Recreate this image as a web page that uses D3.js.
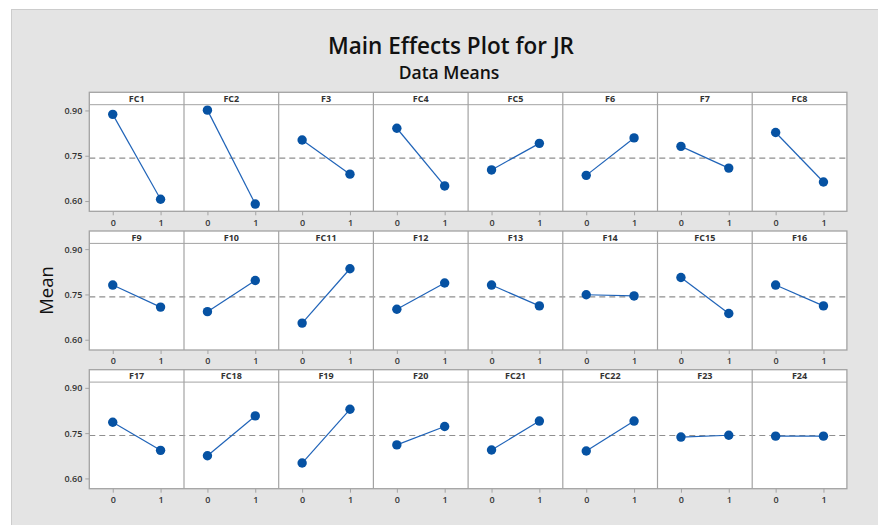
<!DOCTYPE html>
<html>
<head>
<meta charset="utf-8">
<script src="https://cdn.jsdelivr.net/npm/d3@7"></script>
<style>
  html, body { margin: 0; padding: 0; background: #ffffff; }
  svg { display: block; }
  text { font-family: "Open Sans", "DejaVu Sans", sans-serif; }
</style>
</head>
<body>
<svg id="chart" width="878" height="525"></svg>
<script>
// ---- data ----
const factors = ["FC1","FC2","F3","FC4","FC5","F6","F7","FC8",
                 "F9","F10","FC11","F12","F13","F14","FC15","F16",
                 "F17","FC18","F19","F20","FC21","FC22","F23","F24"];
const level0Means = [0.887,0.901,0.802,0.841,0.703,0.685,0.781,0.827,
                     0.781,0.693,0.655,0.701,0.781,0.749,0.806,0.781,
                     0.786,0.675,0.651,0.711,0.694,0.691,0.737,0.740];
const level1Means = [0.606,0.590,0.689,0.650,0.791,0.809,0.709,0.663,
                     0.708,0.796,0.835,0.788,0.712,0.745,0.687,0.712,
                     0.693,0.807,0.829,0.772,0.790,0.790,0.743,0.740];
const levels = [0, 1];
const levelLabels = ["0", "1"];
const yTickValues = [0.60, 0.75, 0.90];
const grandMean = 0.742;
const titleText = "Main Effects Plot for JR";
const subtitleText = "Data Means";
const yAxisLabel = "Mean";

// ---- layout ----
const svg = d3.select("#chart");
const W = 878, H = 525;
const nCols = 8, nRows = 3;
const left = 89.3, panelW = 94.7;
const firstTop = 92.3, rowPitch = 138.7;
const stripH = 12.4, plotH = 106.6;

const axisColor = "#a3a3a3";
const textColor = "#333333";
const lineColor = "#1f63b8";
const dotColor = "#0652a3";

// background
svg.append("rect").attr("x", 0).attr("y", 0).attr("width", W).attr("height", H).attr("fill", "#ffffff");
svg.append("rect").attr("x", 11.5).attr("y", 9.5).attr("width", W - 11).attr("height", H - 9)
  .attr("fill", "#e4e4e4").attr("stroke", "#cccccc").attr("stroke-width", 1);

// title
svg.append("text").attr("x", 451).attr("y", 54).attr("text-anchor", "middle")
  .attr("font-size", 22.5).attr("font-weight", 600).attr("fill", "#111")
  .text(titleText);
svg.append("text").attr("x", 449).attr("y", 78.5).attr("text-anchor", "middle")
  .attr("font-size", 17.5).attr("font-weight", 600).attr("fill", "#111")
  .text(subtitleText);

// y axis label
svg.append("text")
  .attr("transform", `translate(53,${(firstTop + firstTop + 2 * rowPitch + stripH + plotH) / 2}) rotate(-90)`)
  .attr("text-anchor", "middle").attr("font-size", 18.5).attr("font-weight", 500).attr("fill", "#111")
  .text(yAxisLabel);

const x = d3.scaleLinear().domain([-0.49, 1.49]).range([0, panelW]);

for (let r = 0; r < nRows; r++) {
  const top = firstTop + r * rowPitch;
  const plotTop = top + stripH;
  const plotBottom = plotTop + plotH;
  const y = d3.scaleLinear().domain([0.566, 0.919]).range([plotBottom, plotTop]);

  const row = svg.append("g");

  // white panel backgrounds
  row.append("rect").attr("x", left).attr("y", top).attr("width", panelW * nCols)
    .attr("height", stripH + plotH).attr("fill", "#ffffff");

  // y axis (left)
  const yAxis = d3.axisLeft(y).tickValues(yTickValues).tickFormat(d3.format(".2f")).tickSize(4).tickPadding(3);
  const ya = row.append("g").attr("transform", `translate(${left},0)`).call(yAxis);
  ya.select(".domain").remove();
  ya.selectAll(".tick line").attr("stroke", axisColor);
  ya.selectAll(".tick text").attr("font-size", 9).attr("font-weight", 600).attr("fill", textColor)
    .attr("font-family", "\"Open Sans\", sans-serif");

  // grand mean reference line
  row.append("line").attr("x1", left).attr("x2", left + panelW * nCols)
    .attr("y1", y(grandMean)).attr("y2", y(grandMean))
    .attr("stroke", "#8f8f8f").attr("stroke-width", 1.1).attr("stroke-dasharray", "6,4");

  for (let c = 0; c < nCols; c++) {
    const i = r * nCols + c;
    const px = left + c * panelW;
    const g = row.append("g").attr("transform", `translate(${px},0)`);

    // x axis
    const xAxis = d3.axisBottom(x).tickValues(levels).tickFormat((d, k) => levelLabels[k]).tickSize(4).tickPadding(4);
    const xa = g.append("g").attr("transform", `translate(0,${plotBottom})`).call(xAxis);
    xa.select(".domain").remove();
    xa.selectAll(".tick line").attr("stroke", axisColor);
    xa.selectAll(".tick text").attr("font-size", 9).attr("font-weight", 600).attr("fill", textColor)
      .attr("font-family", "\"Open Sans\", sans-serif");

    // strip label
    g.append("text").attr("x", panelW / 2).attr("y", top + stripH / 2 + 3.3)
      .attr("text-anchor", "middle").attr("font-size", 9).attr("font-weight", 700).attr("fill", textColor)
      .text(factors[i]);

    const pts = [[levels[0], level0Means[i]], [levels[1], level1Means[i]]];
    g.append("path").datum(pts)
      .attr("d", d3.line().x(d => x(d[0])).y(d => y(d[1])))
      .attr("fill", "none").attr("stroke", lineColor).attr("stroke-width", 1.2);
    g.selectAll("circle").data(pts).join("circle")
      .attr("cx", d => x(d[0])).attr("cy", d => y(d[1])).attr("r", 4.7)
      .attr("fill", dotColor);
  }

  // panel borders
  row.append("line").attr("x1", left).attr("x2", left + panelW * nCols)
    .attr("y1", plotTop).attr("y2", plotTop).attr("stroke", axisColor).attr("stroke-width", 1);
  for (let c = 1; c < nCols; c++) {
    row.append("line").attr("x1", left + c * panelW).attr("x2", left + c * panelW)
      .attr("y1", top).attr("y2", plotBottom).attr("stroke", axisColor).attr("stroke-width", 1.2);
  }
  row.append("rect").attr("x", left).attr("y", top).attr("width", panelW * nCols)
    .attr("height", stripH + plotH).attr("fill", "none").attr("stroke", axisColor).attr("stroke-width", 1.3);
}
</script>
</body>
</html>
